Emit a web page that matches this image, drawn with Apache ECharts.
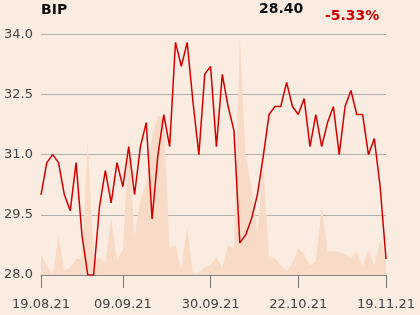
<!DOCTYPE html>
<html>
<head>
<meta charset="utf-8">
<style>
html,body{margin:0;padding:0;background:#fbece1;}
#c{width:420px;height:315px;}
</style>
<script src="https://cdn.jsdelivr.net/npm/echarts@6/dist/echarts.min.js"></script>
</head>
<body>
<div id="c"></div>
<script>
const tickIndices = [0, 14, 29, 44, 59];
const tickLabels = ['19.08.21', '09.09.21', '30.09.21', '22.10.21', '19.11.21'];
const prices = [30.0, 30.8, 31.0, 30.8, 30.0, 29.6, 30.8, 29.0, 28.0, 28.0,
  29.7, 30.6, 29.8, 30.8, 30.2, 31.2, 30.0, 31.2, 31.8, 29.4,
  31.0, 32.0, 31.2, 33.8, 33.2, 33.8, 32.3, 31.0, 33.0, 33.2,
  31.2, 33.0, 32.2, 31.6, 28.8, 29.0, 29.4, 30.0, 30.95, 32.0,
  32.2, 32.2, 32.8, 32.2, 32.0, 32.4, 31.2, 32.0, 31.2, 31.8,
  32.2, 31.0, 32.2, 32.6, 32.0, 32.0, 31.0, 31.4, 30.2, 28.4];
const volumes = [21, 9, 1, 39, 4, 8, 16, 16, 133, 18,
  17, 12, 58, 15, 25, 136, 39, 75, 92, 138,
  159, 156, 27, 30, 6, 48, 1, 2, 8, 10,
  18, 8, 30, 27, 239, 119, 88, 41, 114, 16,
  17, 10, 4, 12, 26, 21, 9, 14, 69, 24,
  24, 23, 21, 17, 24, 8, 26, 9, 35, 16];
const yTicks = [28.0, 29.5, 31.0, 32.5, 34.0];
const titleText = 'BIP';
const lastPrice = '28.40';
const changeText = '-5.33%';

const categories = prices.map((_, i) => i);
const labelFor = {};
tickIndices.forEach((idx, k) => { labelFor[idx] = tickLabels[k]; });

const chart = echarts.init(document.getElementById('c'), null, {renderer: 'canvas'});
chart.setOption({
  backgroundColor: '#fbece1',
  animation: false,
  textStyle: {fontFamily: 'DejaVu Sans'},
  graphic: [
    {type: 'text', left: 41, top: 3, style: {text: titleText, font: 'bold 14px DejaVu Sans', fill: '#111'}},
    {type: 'text', left: 259, top: 2, style: {text: lastPrice, font: 'bold 14px DejaVu Sans', fill: '#111'}},
    {type: 'text', left: 325, top: 9, style: {text: changeText, font: 'bold 14px DejaVu Sans', fill: '#cc0000'}}
  ],
  grid: {left: 41, right: 34, top: 34.3, bottom: 40},
  xAxis: {
    type: 'category',
    data: categories,
    boundaryGap: false,
    axisLine: {show: true, lineStyle: {color: '#888', width: 1}},
    axisTick: {show: true, length: 13, lineStyle: {color: '#777'}, interval: (idx) => labelFor[idx] !== undefined},
    axisLabel: {
      interval: (idx) => labelFor[idx] !== undefined,
      formatter: (v, idx) => labelFor[idx] || '',
      color: '#444', fontSize: 13, margin: 23, fontFamily: 'DejaVu Sans'
    },
    splitLine: {show: false}
  },
  yAxis: [
    {
      type: 'value', min: 28, max: 34, interval: 1.5,
      position: 'left',
      axisLine: {show: false}, axisTick: {show: false},
      axisLabel: {color: '#444', fontSize: 13, margin: 8, formatter: (v) => v.toFixed(1), fontFamily: 'DejaVu Sans'},
      splitLine: {show: true, lineStyle: {color: '#b4b0ac', width: 1}}
    },
    {
      type: 'value', min: 0, max: 240, show: false,
      splitLine: {show: false}
    }
  ],
  series: [
    {
      type: 'line', yAxisIndex: 1, data: volumes, symbol: 'none', z: 1,
      lineStyle: {width: 0},
      areaStyle: {color: '#f8dbc7', opacity: 1}
    },
    {
      type: 'line', yAxisIndex: 0, data: prices, symbol: 'none', z: 3,
      lineStyle: {color: '#d00000', width: 1.5}
    }
  ]
});
</script>
</body>
</html>
